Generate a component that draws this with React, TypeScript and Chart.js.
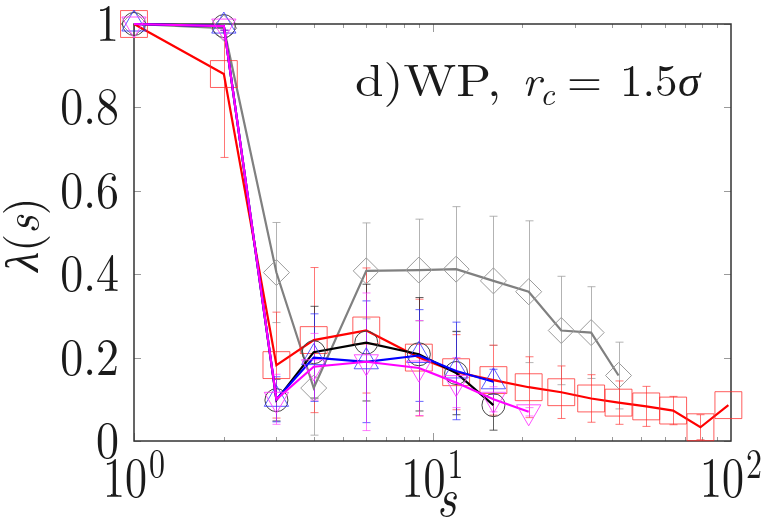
import React, { useEffect, useRef } from 'react';
import { Chart, registerables } from 'chart.js';

Chart.register(...registerables);

// ---- data ----
const sRed = [1, 2, 3, 4, 6, 9, 12, 16, 21, 27, 34, 42, 52, 64, 79, 98];
const lamRed = [1, 0.88, 0.182, 0.242, 0.265, 0.2, 0.165, 0.146, 0.129, 0.117, 0.102, 0.092, 0.083, 0.073, 0.033, 0.086];
const errRed = [0, 0.2, 0.127, 0.174, 0.15, 0.14, 0.09, 0.084, 0.073, 0.063, 0.057, 0.052, 0.048, 0.034, 0.03, 0.0];

const sBlack = [1, 2, 3, 4, 6, 9, 12, 16];
const lamBlack = [1, 0.995, 0.098, 0.213, 0.236, 0.208, 0.163, 0.086];
const errBlack = [0, 0.01, 0.05, 0.11, 0.14, 0.136, 0.1, 0.06];

const sBlue = [1, 2, 3, 4, 6, 9, 12, 16];
const lamBlue = [1, 0.995, 0.1, 0.2, 0.19, 0.205, 0.168, 0.142];
const errBlue = [0, 0.01, 0.054, 0.105, 0.146, 0.11, 0.117, 0.03];

const sMagenta = [1, 2, 3, 4, 6, 9, 12, 16, 21];
const lamMagenta = [1, 0.995, 0.1, 0.178, 0.19, 0.175, 0.14, 0.1, 0.07];
const errMagenta = [0, 0.01, 0.06, 0.08, 0.165, 0.114, 0.06, 0.03, 0.01];

const sGray = [1, 2, 3, 4, 6, 9, 12, 16, 21, 27, 34, 42];
const lamGray = [1, 0.99, 0.404, 0.127, 0.408, 0.41, 0.412, 0.384, 0.358, 0.265, 0.26, 0.157];
const errGray = [0, 0.01, 0.12, 0.113, 0.115, 0.122, 0.15, 0.155, 0.17, 0.13, 0.11, 0.08];

const yTickValues = [0, 0.2, 0.4, 0.6, 0.8, 1];
const yTickLabels = ['0', '0.2', '0.4', '0.6', '0.8', '1'];
const xTickValues = [1, 10, 100];
const xTickBase = ['10', '10', '10'];
const xTickExp = ['0', '1', '2'];

const FAM = '"Latin Modern Roman"';

function fnt(style: string, size: number) {
  return `${style === 'italic' ? 'italic ' : ''}${size}px ${FAM}`;
}

function pts(xs: number[], ys: number[]) {
  return xs.map((x, i) => ({ x, y: ys[i] }));
}

function sText(ctx: CanvasRenderingContext2D, txt: string, x: number, y: number, size: number, style: string, align: CanvasTextAlign, sy = 1, sx = 1) {
  ctx.save();
  ctx.translate(x, y);
  ctx.scale(sx, sy);
  ctx.font = fnt(style, size);
  ctx.textAlign = align;
  ctx.textBaseline = 'alphabetic';
  ctx.fillText(txt, 0, 0);
  ctx.restore();
}

const decor = {
  id: 'decor',
  beforeDatasetsDraw(chart: any) {
    const { ctx, chartArea: a, scales } = chart;
    const xs = scales.x;
    const ys = scales.y;
    ctx.save();
    // inward tick marks
    ctx.strokeStyle = '#9a9a9a';
    ctx.lineWidth = 1;
    ctx.beginPath();
    for (let d = 1; d < 100; d *= 10) {
      for (let m = 1; m <= 9; m++) {
        const v = m * d;
        const px = Math.round(xs.getPixelForValue(v)) + 0.5;
        const len = m === 1 ? 8 : 4;
        ctx.moveTo(px, a.bottom);
        ctx.lineTo(px, a.bottom - len);
        ctx.moveTo(px, a.top);
        ctx.lineTo(px, a.top + len);
      }
    }
    yTickValues.forEach((v) => {
      const py = Math.round(ys.getPixelForValue(v)) + 0.5;
      ctx.moveTo(a.left, py);
      ctx.lineTo(a.left + 7, py);
      ctx.moveTo(a.right, py);
      ctx.lineTo(a.right - 7, py);
    });
    ctx.stroke();
    // frame
    ctx.strokeStyle = '#333';
    ctx.lineWidth = 1.5;
    ctx.strokeRect(a.left, a.top, a.right - a.left, a.bottom - a.top);

    // error bars
    ctx.beginPath();
    ctx.rect(a.left, a.top, a.right - a.left, a.bottom - a.top);
    ctx.clip();
    const order = chart.data.datasets.map((_: any, i: number) => i).reverse();
    order.forEach((di: number) => {
      const ds = chart.data.datasets[di];
      ctx.strokeStyle = ds.errorColor;
      ctx.lineWidth = 1;
      ctx.beginPath();
      ds.data.forEach((p: any, i: number) => {
        const e = ds.errors[i];
        if (!e) return;
        const px = Math.round(xs.getPixelForValue(p.x)) + 0.5;
        const t = ys.getPixelForValue(p.y + e);
        const b = ys.getPixelForValue(p.y - e);
        ctx.moveTo(px, t);
        ctx.lineTo(px, b);
        ctx.moveTo(px - 4, t);
        ctx.lineTo(px + 4, t);
        ctx.moveTo(px - 4, b);
        ctx.lineTo(px + 4, b);
      });
      ctx.stroke();
    });
    ctx.restore();
  },
  afterDraw(chart: any) {
    const { ctx, chartArea: a, scales } = chart;
    const xs = scales.x;
    const ys = scales.y;
    ctx.save();
    ctx.fillStyle = '#1a1a1a';
    // y tick labels
    yTickValues.forEach((v, i) => {
      const py = ys.getPixelForValue(v);
      sText(ctx, yTickLabels[i], a.left - 15, py + 17, 46, 'normal', 'right', 1.15);
    });
    // x tick labels with superscript
    xTickValues.forEach((v, i) => {
      const px = xs.getPixelForValue(v);
      ctx.font = fnt('normal', 44);
      const wb = ctx.measureText(xTickBase[i]).width;
      ctx.font = fnt('normal', 32);
      const we = ctx.measureText(xTickExp[i]).width;
      const x0 = px - (wb + we + 2) / 2;
      sText(ctx, xTickBase[i], x0, a.bottom + 56, 44, 'normal', 'left', 1.3);
      sText(ctx, xTickExp[i], x0 + wb + 2, a.bottom + 37, 32, 'normal', 'left', 1.3);
    });
    // x axis title
    sText(ctx, 's', (a.left + a.right) / 2 + 14, a.bottom + 75, 48, 'italic', 'center', 1.1);

    // y axis title (rotated)
    ctx.save();
    ctx.translate(24, (a.top + a.bottom) / 2 + 2);
    ctx.rotate(-Math.PI / 2);
    const parts: [string, string][] = [['λ', 'italic'], ['(', 'normal'], ['s', 'italic'], [')', 'normal']];
    let total = 0;
    const widths = parts.map(([t, st]) => {
      ctx.font = fnt(st, 46);
      const w = ctx.measureText(t).width;
      total += w;
      return w;
    });
    let cx = -total / 2;
    ctx.textBaseline = 'middle';
    ctx.textAlign = 'left';
    parts.forEach(([t, st], i) => {
      ctx.font = fnt(st, 46);
      ctx.fillText(t, cx, 0);
      cx += widths[i];
    });
    ctx.restore();

    // annotation text
    const base = a.top + 72;
    sText(ctx, 'd)WP,', a.right - 376, base, 45, 'normal', 'left', 1, 1.14);
    sText(ctx, 'r', a.right - 209, base, 45, 'italic', 'left');
    sText(ctx, 'c', a.right - 191, base + 9, 32, 'italic', 'left');
    sText(ctx, '=', a.right - 164, base, 45, 'normal', 'left');
    sText(ctx, '1.5', a.right - 111, base, 45, 'normal', 'left');
    sText(ctx, 'σ', a.right - 53, base, 45, 'italic', 'left');
    ctx.restore();
  },
};

export default function App() {
  const ref = useRef<HTMLCanvasElement>(null);
  useEffect(() => {
    document.body.style.margin = '0';
    let chart: Chart | null = null;
    let cancelled = false;
    const mk = (label: string, xs: number[], ys: number[], errs: number[], line: string, mark: string, errc: string, style: string, radius: number, rot = 0) => ({
      label,
      data: pts(xs, ys),
      errors: errs,
      errorColor: errc,
      borderColor: line,
      borderWidth: 2.2,
      pointStyle: style,
      pointRadius: radius,
      pointRotation: rot,
      pointBorderColor: mark,
      pointBackgroundColor: 'rgba(0,0,0,0)',
      pointBorderWidth: 1,
      tension: 0,
      fill: false,
      clip: false as any,
    });
    const build = () => {
      if (cancelled || !ref.current) return;
      chart = new Chart(ref.current, {
        type: 'line',
        data: {
          datasets: [
            mk('magenta', sMagenta, lamMagenta, errMagenta, '#ff00ff', 'rgba(255,50,255,0.85)', 'rgba(255,40,255,0.6)', 'triangle', 14, 180),
            mk('blue', sBlue, lamBlue, errBlue, '#0000ff', 'rgba(50,50,255,0.8)', 'rgba(40,40,255,0.7)', 'triangle', 14),
            mk('black', sBlack, lamBlack, errBlack, '#000000', '#444444', 'rgba(40,40,40,0.75)', 'circle', 11.5),
            mk('red', sRed, lamRed, errRed, '#ff0000', 'rgba(255,40,40,0.75)', 'rgba(255,60,60,0.7)', 'rect', 19),
            mk('gray', sGray, lamGray, errGray, '#808080', '#9a9a9a', 'rgba(160,160,160,0.8)', 'rectRot', 13),
          ] as any,
        },
        options: {
          animation: false,
          responsive: false,
          maintainAspectRatio: false,
          layout: { padding: { left: 134, right: 34, top: 24, bottom: 80 } },
          plugins: { legend: { display: false }, tooltip: { enabled: false } },
          scales: {
            x: {
              type: 'logarithmic',
              min: 1,
              max: 100,
              grid: { display: false, drawTicks: false },
              border: { display: false },
              ticks: { display: false },
              afterFit: (s: any) => { s.height = 0; },
            },
            y: {
              type: 'linear',
              min: 0,
              max: 1,
              grid: { display: false, drawTicks: false },
              border: { display: false },
              ticks: { display: false, stepSize: 0.2 },
              afterFit: (s: any) => { s.width = 0; },
            },
          },
        } as any,
        plugins: [decor],
      });
    };
    const fonts = (document as any).fonts;
    if (fonts && fonts.load) {
      Promise.all([
        fonts.load('46px "Latin Modern Roman"', '0.8d)WP'),
        fonts.load('italic 46px "Latin Modern Roman"', 'src'),
      ]).then(build, build);
    } else {
      build();
    }
    return () => {
      cancelled = true;
      if (chart) chart.destroy();
    };
  }, []);
  return <canvas ref={ref} width={765} height={521} style={{ display: 'block' }} />;
}
